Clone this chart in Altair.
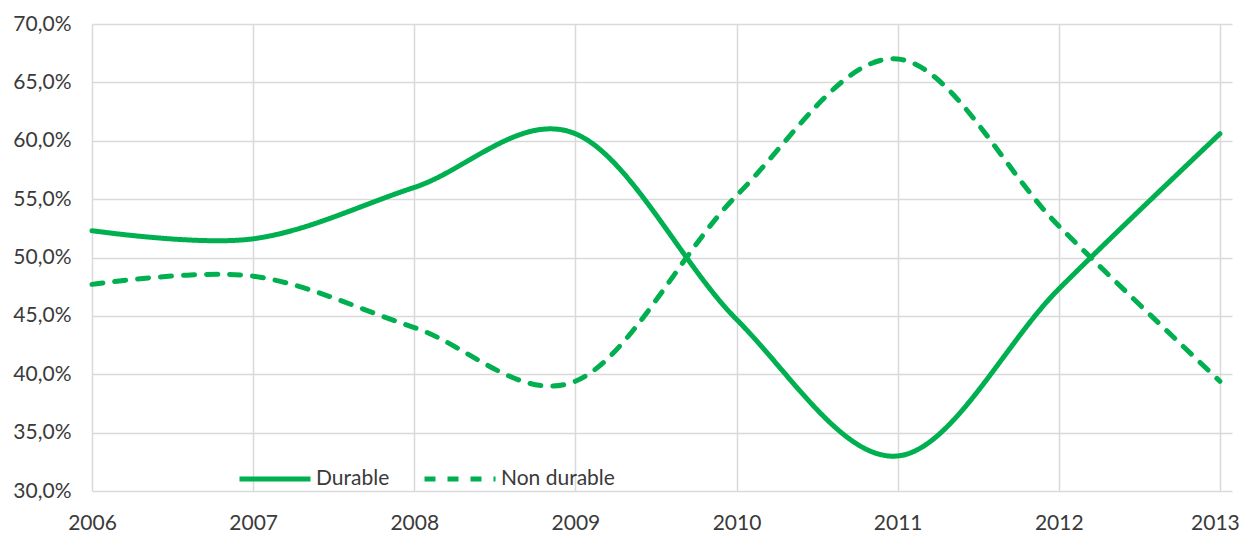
import altair as alt
import pandas as pd

years = [2006, 2007, 2008, 2009, 2010, 2011, 2012, 2013]
durable = [52.3, 51.6, 56.0, 60.6, 44.7, 33.0, 47.3, 60.6]
non_durable = [47.7, 48.4, 44.0, 39.4, 55.3, 67.0, 52.7, 39.4]
series_names = ["Durable", "Non durable"]
y_ticks = [30, 35, 40, 45, 50, 55, 60, 65, 70]

rows = []
for name, vals in zip(series_names, [durable, non_durable]):
    for yr, v in zip(years, vals):
        rows.append({"year": yr, "value": v, "series": name})
df = pd.DataFrame(rows)

GREEN = "#00B050"
TXT = "#3a3a3a"
FONT = "Lato"
FS = 21

chart = alt.Chart(df).mark_line(
    interpolate="cardinal", strokeWidth=5, strokeCap="round", color=GREEN
).encode(
    x=alt.X("year:Q",
            scale=alt.Scale(domain=[2006, 2013.075], nice=False, zero=False),
            axis=alt.Axis(values=years, format="d", title=None, grid=True,
                          domain=False, ticks=False, labelPadding=21,
                          labelFontSize=FS, labelFont=FONT, labelColor=TXT,
                          gridColor="#d9d9d9", gridWidth=1.5,
                          labelOffset={"condition": {"test": "datum.value == 2013", "value": -5}, "value": 0},
                          labelFlush=False)),
    y=alt.Y("value:Q",
            scale=alt.Scale(domain=[30, 70], nice=False, zero=False),
            axis=alt.Axis(values=y_ticks, title=None, grid=True,
                          domain=False, ticks=False, labelPadding=21,
                          labelFontSize=FS, labelFont=FONT, labelColor=TXT,
                          gridColor="#d9d9d9", gridWidth=1.5,
                          labelExpr="replace(format(datum.value, '.1f'), '.', ',') + '%'")),
    strokeDash=alt.StrokeDash("series:N",
                              scale=alt.Scale(domain=series_names,
                                              range=[[1, 0], [11, 12]]),
                              legend=alt.Legend(
                                  title=None, orient="none", direction="horizontal",
                                  legendX=140, legendY=412, padding=5,
                                  symbolType="stroke", symbolSize=5041,
                                  symbolStrokeWidth=5, symbolStrokeColor=GREEN,
                                  labelFontSize=FS, labelFont=FONT, labelColor=TXT,
                                  labelOffset=3, columnPadding=24)),
    detail="series:N",
).properties(
    width=1140, height=467,
    padding={"left": 84, "top": 16, "right": 8, "bottom": 42},
    autosize=alt.AutoSizeParams(type="none"),
).configure_view(stroke=None)

chart.save("out.html", embed_options={"renderer": "svg", "actions": False})
